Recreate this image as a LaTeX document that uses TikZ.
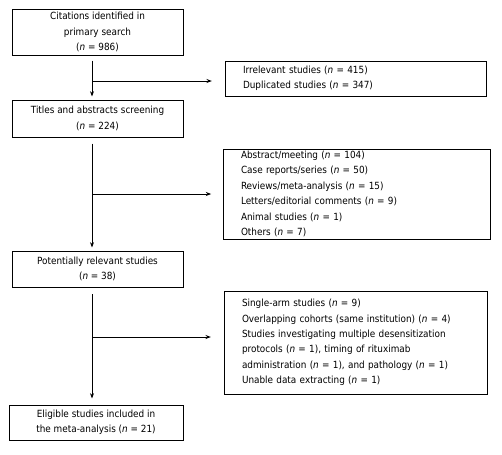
\documentclass[tikz,border=0pt]{standalone}
\usepackage{fontspec}
\setmainfont{DejaVu Sans Condensed}
\usetikzlibrary{arrows.meta}
\tikzset{
  box/.style={draw, line width=0.75pt, inner sep=0pt,
    font=\fontsize{7.4}{11.6}\selectfont},
  mainbox/.style={box, align=center, minimum width=128.25pt},
  exclbox/.style={box, align=left, inner xsep=13.5pt},
  flow/.style={-{Stealth[length=4pt,width=3pt]}, line width=0.75pt}
}
\begin{document}
\begin{tikzpicture}[x=0.75pt,y=-0.75pt]
  \useasboundingbox (0,0) rectangle (502,454);
  % main column
  \node[mainbox, minimum height=34.5pt] (cit) at (97.5,32)
    {Citations identified in\\primary search\\(\textit{n} = 986)};
  \node[mainbox, minimum height=27.75pt] (tit) at (97.5,118.5)
    {Titles and abstracts screening\\(\textit{n} = 224)};
  \node[mainbox, minimum height=27pt] (pot) at (97.5,269)
    {Potentially relevant studies\\(\textit{n} = 38)};
  \node[mainbox, minimum width=130.5pt, minimum height=26.25pt] (eli) at (96,422.5)
    {Eligible studies included in\\the meta-analysis (\textit{n} = 21)};
  % exclusions
  \node[exclbox, text width=168.75pt, minimum height=26.25pt] (ex1) at (355.5,78.5)
    {Irrelevant studies (\textit{n} = 415)\\Duplicated studies (\textit{n} = 347)};
  \node[exclbox, text width=173.25pt, minimum height=67.5pt] (ex2) at (356.5,194)
    {Abstract/meeting (\textit{n} = 104)\\
     Case reports/series (\textit{n} = 50)\\
     Reviews/meta-analysis (\textit{n} = 15)\\
     Letters/editorial comments (\textit{n} = 9)\\
     Animal studies (\textit{n} = 1)\\
     Others (\textit{n} = 7)};
  \node[exclbox, text width=170.25pt, minimum height=77.25pt] (ex3) at (355.5,342.5)
    {Single-arm studies (\textit{n} = 9)\\
     Overlapping cohorts (same institution) (\textit{n} = 4)\\
     Studies investigating multiple desensitization\\
     protocols (\textit{n} = 1), timing of rituximab\\
     administration (\textit{n} = 1), and pathology (\textit{n} = 1)\\
     Unable data extracting (\textit{n} = 1)};
  % spine and branches
  \coordinate (spine) at (92,0);
  \coordinate (b1) at (92,81);
  \coordinate (b2) at (92,194);
  \coordinate (b3) at (92,337);
  \draw[flow, shorten <=3.75pt, shorten >=2.25pt] (cit.south -| spine) -- (tit.north -| spine);
  \draw[flow, shorten <=4.5pt, shorten >=2.25pt] (tit.south -| spine) -- (pot.north -| spine);
  \draw[flow, shorten <=5pt, shorten >=4.5pt] (pot.south -| spine) -- (eli.north -| spine);
  \draw[flow, shorten >=9.5pt] (b1) -- (b1 -| ex1.west);
  \draw[flow, shorten >=8.5pt] (b2) -- (b2 -| ex2.west);
  \draw[flow, shorten >=9.5pt] (b3) -- (b3 -| ex3.west);
\end{tikzpicture}
\end{document}
